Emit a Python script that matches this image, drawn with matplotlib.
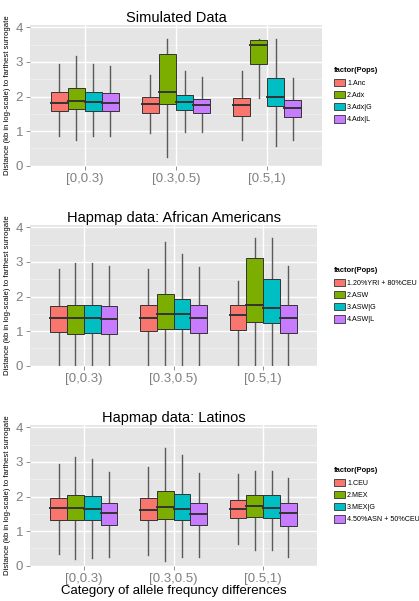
import numpy as np
import matplotlib
matplotlib.use("Agg")
import matplotlib.pyplot as plt
from matplotlib.patches import Rectangle

plt.rcParams['font.family'] = ['Liberation Sans', 'DejaVu Sans']

categories = ["[0,0.3)", "[0.3,0.5)", "[0.5,1)"]
colors = ["#F8766D", "#7CAE00", "#00BFC4", "#C77CFF"]

titles = ["Simulated Data", "Hapmap data: African Americans", "Hapmap data: Latinos"]
pops = [
    ["1.Anc", "2.Adx", "3.Adx|G", "4.Adx|L"],
    ["1.20%YRI + 80%CEU", "2.ASW", "3.ASW|G", "4.ASW|L"],
    ["1.CEU", "2.MEX", "3.MEX|G", "4.50%ASN + 50%CEU"],
]

# rows = category groups, columns = populations
sim_lo = [[0.86, 0.74, 0.86, 0.86], [0.95, 0.26, 0.96, 0.96], [0.75, 1.95, 0.58, 0.75]]
sim_q1 = [[1.59, 1.63, 1.59, 1.59], [1.53, 1.79, 1.61, 1.53], [1.44, 2.94, 1.72, 1.41]]
sim_med = [[1.82, 1.88, 1.83, 1.82], [1.77, 2.14, 1.84, 1.75], [1.75, 3.50, 2.00, 1.68]]
sim_q3 = [[2.13, 2.24, 2.13, 2.09], [1.98, 3.23, 2.05, 1.94], [1.97, 3.63, 2.54, 1.91]]
sim_hi = [[2.95, 3.17, 2.93, 2.87], [2.62, 3.65, 2.73, 2.56], [2.74, 3.66, 3.66, 2.54]]

afr_lo = [[0.0, 0.0, 0.0, 0.0], [0.0, 0.0, 0.0, 0.0], [0.0, 0.0, 0.0, 0.0]]
afr_q1 = [[0.97, 0.93, 0.95, 0.92], [1.00, 1.05, 1.05, 0.95], [1.02, 1.26, 1.22, 0.95]]
afr_med = [[1.37, 1.37, 1.37, 1.34], [1.38, 1.49, 1.48, 1.37], [1.46, 1.75, 1.68, 1.39]]
afr_q3 = [[1.72, 1.75, 1.76, 1.72], [1.74, 2.06, 1.92, 1.75], [1.75, 3.11, 2.51, 1.75]]
afr_hi = [[2.79, 2.96, 2.96, 2.89], [2.80, 3.58, 3.24, 2.86], [2.45, 3.68, 3.68, 2.87]]

lat_lo = [[0.33, 0.20, 0.23, 0.26], [0.32, 0.14, 0.26, 0.26], [0.62, 0.45, 0.45, 0.24]]
lat_q1 = [[1.32, 1.32, 1.32, 1.18], [1.32, 1.35, 1.32, 1.17], [1.37, 1.40, 1.37, 1.15]]
lat_med = [[1.66, 1.67, 1.65, 1.51], [1.61, 1.69, 1.65, 1.48], [1.63, 1.72, 1.68, 1.52]]
lat_q3 = [[1.96, 2.03, 2.01, 1.80], [1.96, 2.17, 2.07, 1.80], [1.90, 2.05, 2.05, 1.82]]
lat_hi = [[2.94, 3.15, 3.09, 2.71], [2.86, 3.39, 3.20, 2.67], [2.65, 2.75, 2.74, 2.54]]

panels = [
    (sim_lo, sim_q1, sim_med, sim_q3, sim_hi),
    (afr_lo, afr_q1, afr_med, afr_q3, afr_hi),
    (lat_lo, lat_q1, lat_med, lat_q3, lat_hi),
]

W, H = 419, 601
fig = plt.figure(figsize=(W / 100, H / 100), dpi=100)

zero_px = [165.7, 365.7, 565.7]
right_px = [322, 317, 317]
left_px = 30
unit_px = 34.6
ytop = 4.06

grey_txt = "#7F7F7F"
box_w = 0.75 / 4

for p in range(3):
    lo, q1, med, q3, hi = panels[p]
    height = ytop * unit_px
    ax = fig.add_axes([left_px / W, (H - zero_px[p]) / H,
                       (right_px[p] - left_px) / W, height / H])
    ax.set_facecolor("#E5E5E5")
    for s in ax.spines.values():
        s.set_visible(False)
    ax.set_xlim(0.4, 3.6)
    ax.set_ylim(0, ytop)
    for y in [0.5, 1.5, 2.5, 3.5]:
        ax.axhline(y, color="#F2F2F2", lw=0.5, zorder=0)
    for y in [0, 1, 2, 3, 4]:
        ax.axhline(y, color="white", lw=1.0, zorder=0)
    for x in [1, 2, 3]:
        ax.axvline(x, color="white", lw=1.0, zorder=0)

    for g in range(3):
        for k in range(4):
            xc = g + 1 - 0.375 + box_w * (k + 0.5)
            ax.plot([xc, xc], [lo[g][k], q1[g][k]], color="#5A5A5A", lw=1.0, zorder=2)
            ax.plot([xc, xc], [q3[g][k], hi[g][k]], color="#5A5A5A", lw=1.0, zorder=2)
            ax.add_patch(Rectangle((xc - box_w / 2, q1[g][k]), box_w, q3[g][k] - q1[g][k],
                                   facecolor=colors[k], edgecolor="#333333", lw=0.7, zorder=3))
            ax.plot([xc - box_w / 2, xc + box_w / 2], [med[g][k], med[g][k]],
                    color="#333333", lw=1.4, zorder=4)

    ax.set_xticks([1, 2, 3])
    ax.set_xticklabels(categories)
    ax.set_yticks([0, 1, 2, 3, 4])
    ax.tick_params(axis="both", colors=grey_txt, labelsize=9.5, length=3, width=0.6, pad=2)
    ax.set_title(titles[p], fontsize=10.5, pad=-0.5)
    ax.set_ylabel("Distance (kb in log-scale) to farthest surrogate", fontsize=5.6, labelpad=2)
    ax.yaxis.set_label_coords(-19 / (right_px[p] - left_px), 0.5)

    handles = [Rectangle((0, 0), 1, 1, facecolor=c, edgecolor="#333333", lw=0.6) for c in colors]
    leg = ax.legend(handles, pops[p], title="factor(Pops)", loc="upper left",
                    bbox_to_anchor=((334 - left_px) / (right_px[p] - left_px), 0.70),
                    frameon=False, fontsize=5.1, title_fontsize=5.4,
                    handlelength=1.5, handleheight=1.2, handletextpad=0.35,
                    labelspacing=0.6, borderaxespad=0, borderpad=0)
    leg.get_title().set_fontweight("bold")
    leg._legend_box.align = "left"

    if p == 2:
        ax.set_xlabel("Category of allele frequncy differences", fontsize=9.5, labelpad=0)

fig.savefig("out.png", dpi=100)
